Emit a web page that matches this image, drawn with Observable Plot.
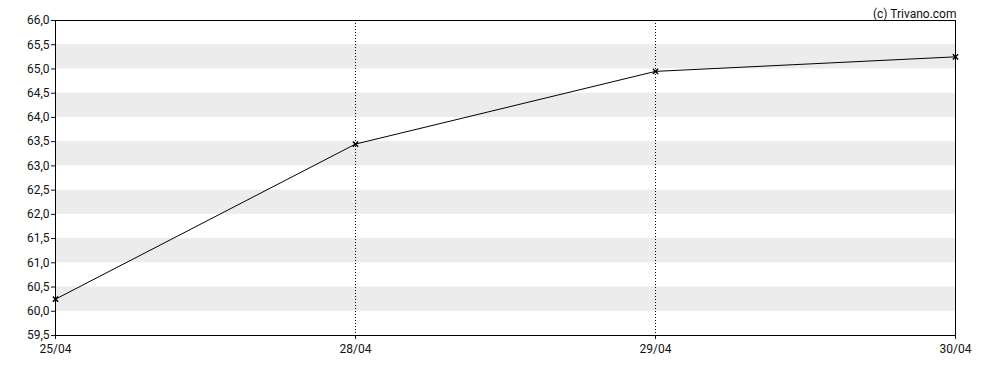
<!DOCTYPE html>
<html>
<head>
<meta charset="utf-8">
<script src="https://cdn.jsdelivr.net/npm/d3@7"></script>
<script src="https://cdn.jsdelivr.net/npm/@observablehq/plot@0.6"></script>
<style>
  body { margin: 0; background: #fff; }
  svg { display: block; }
</style>
</head>
<body>
<div id="chart"></div>
<script>
const dates = ["25/04", "28/04", "29/04", "30/04"];
const prices = [60.25, 63.45, 64.95, 65.25];
const yTicks = [59.5, 60, 60.5, 61, 61.5, 62, 62.5, 63, 63.5, 64, 64.5, 65, 65.5, 66];
const bandStarts = [60, 61, 62, 63, 64, 65];
const gridDates = ["28/04", "29/04"];
const credit = "(c) Trivano.com";

const data = dates.map((d, i) => ({date: d, price: prices[i]}));
const bands = bandStarts.map(b => ({y1: b, y2: b + 0.5}));
const fmt = d => d.toFixed(1).replace(".", ",");

const chart = Plot.plot({
  width: 988,
  height: 370,
  marginLeft: 55,
  marginRight: 33,
  marginTop: 20,
  marginBottom: 35,
  style: {fontFamily: "Roboto, sans-serif", fontSize: "12px", color: "#111", background: "#fff"},
  x: {type: "point", domain: dates, padding: 0, label: null, tickSize: 4, tickPadding: 5},
  y: {domain: [59.5, 66], ticks: yTicks, tickFormat: fmt, label: null, tickSize: 4, tickPadding: 2},
  marks: [
    Plot.rect(bands, {x1: () => dates[0], x2: () => dates[dates.length - 1], y1: "y1", y2: "y2", fill: "#ececec"}),
    Plot.ruleX(gridDates, {stroke: "#000", strokeDasharray: "1,2", strokeWidth: 1}),
    Plot.line(data, {x: "date", y: "price", stroke: "#000", strokeWidth: 1}),
    Plot.dot(data, {x: "date", y: "price", symbol: "times", r: 2.5, stroke: "#000", strokeWidth: 1.5}),
    Plot.frame({stroke: "#000", strokeWidth: 1}),
    Plot.text([credit], {frameAnchor: "top-right", dy: -11, dx: 1, textAnchor: "end", fill: "#111", fontSize: 12})
  ]
});
document.getElementById("chart").appendChild(chart);
</script>
</body>
</html>
